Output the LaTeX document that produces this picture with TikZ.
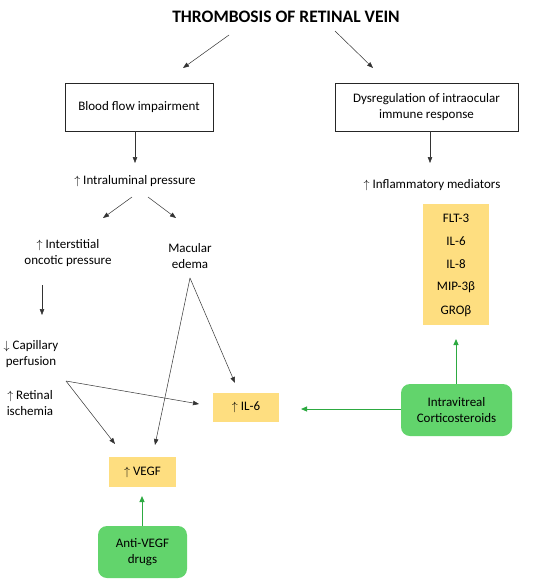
\documentclass[tikz,border=0pt]{standalone}
\usepackage{fontspec}
\setmainfont{Carlito}
\usetikzlibrary{arrows.meta}
\definecolor{boxyellow}{RGB}{254,222,128}
\definecolor{druggreen}{RGB}{98,212,108}
\definecolor{arrgreen}{RGB}{45,170,65}
\begin{document}
\begin{tikzpicture}[x=1pt,y=-1pt,
  every node/.style={font=\fontsize{13}{16}\selectfont, inner sep=0pt, align=center},
  box/.style={draw=black!85, line width=0.8pt, fill=white},
  ybox/.style={fill=boxyellow},
  gbox/.style={fill=druggreen, rounded corners=9pt},
  arr/.style={draw=black!80, line width=0.5pt, -{Triangle[length=6pt,width=4.5pt]}},
  garr/.style={draw=arrgreen, line width=1pt, -{Triangle[length=6pt,width=5pt]}}]
\useasboundingbox[fill=white] (0,0) rectangle (550,584);

\node[font=\bfseries\fontsize{17.5}{20}\selectfont] (title) at (286,17) {THROMBOSIS OF RETINAL VEIN};

\node[box, minimum width=148pt, minimum height=48pt] (bfi) at (139,107) {Blood flow impairment};
\node[box, minimum width=183pt, minimum height=48pt] (dys) at (426.5,107) {Dysregulation of intraocular\\immune response};

\coordinate (tL) at (229,35); \coordinate (tLe) at (183,68);
\coordinate (tR) at (335,31); \coordinate (tRe) at (373,68);
\draw[arr] (tL) -- (tLe);
\draw[arr] (tR) -- (tRe);

\node (ip) at (135,181) {$\uparrow$ Intraluminal pressure};
\node (im) at (432,185) {$\uparrow$ Inflammatory mediators};
\coordinate (ipT) at (135,163);
\coordinate (imT) at (430,163);
\draw[arr] (bfi.south -| ipT) -- (ipT);
\draw[arr] (dys.south -| imT) -- (imT);

\node (iop) at (68,253) {$\uparrow$ Interstitial\\oncotic pressure};
\node (me) at (190,256) {Macular\\edema};
\coordinate (ipL) at (132,197); \coordinate (ipLe) at (103,218);
\coordinate (ipR) at (148,197); \coordinate (ipRe) at (176,218);
\draw[arr] (ipL) -- (ipLe);
\draw[arr] (ipR) -- (ipRe);

\node (cp) at (31,354) {$\downarrow$ Capillary\\perfusion};
\node (ri) at (30,403) {$\uparrow$ Retinal\\ischemia};
\coordinate (iopB) at (42,285); \coordinate (iopBe) at (42,315);
\draw[arr] (iopB) -- (iopBe);

\node[ybox, minimum width=66pt, minimum height=29pt] (il6) at (246,407.5) {$\uparrow$ IL-6};
\node[ybox, minimum width=67pt, minimum height=30pt] (vegf) at (142.5,472) {$\uparrow$ VEGF};

\coordinate (cpR) at (66,381);
\coordinate (meB) at (190,278);
\coordinate (il6a) at (199,404);
\coordinate (il6b) at (235,383);
\coordinate (vegfa) at (115,444);
\coordinate (vegfb) at (155,445);
\draw[arr] (cpR) -- (il6a);
\draw[arr] (cpR) -- (vegfa);
\draw[arr] (meB) -- (il6b);
\draw[arr] (meB) -- (vegfb);

\node[ybox, minimum width=66pt, minimum height=121pt] (med) at (456,264.5) {};
\node at (456,218) {FLT-3};
\node at (456,241) {IL-6};
\node at (456,264) {IL-8};
\node at (456,287) {MIP-3β};
\node at (456,311) {GROβ};

\node[gbox, minimum width=111pt, minimum height=52pt] (cort) at (456.5,410) {Intravitreal\\Corticosteroids};
\node[gbox, minimum width=89pt, minimum height=52pt] (anti) at (142.5,552) {Anti-VEGF\\drugs};

\coordinate (medB) at (456,339);
\coordinate (il6R) at (301,409);
\coordinate (vegfB) at (142,496);
\draw[garr] (cort.north -| medB) -- (medB);
\draw[garr] (cort.west |- il6R) -- (il6R);
\draw[garr] (anti.north -| vegfB) -- (vegfB);
\end{tikzpicture}
\end{document}
